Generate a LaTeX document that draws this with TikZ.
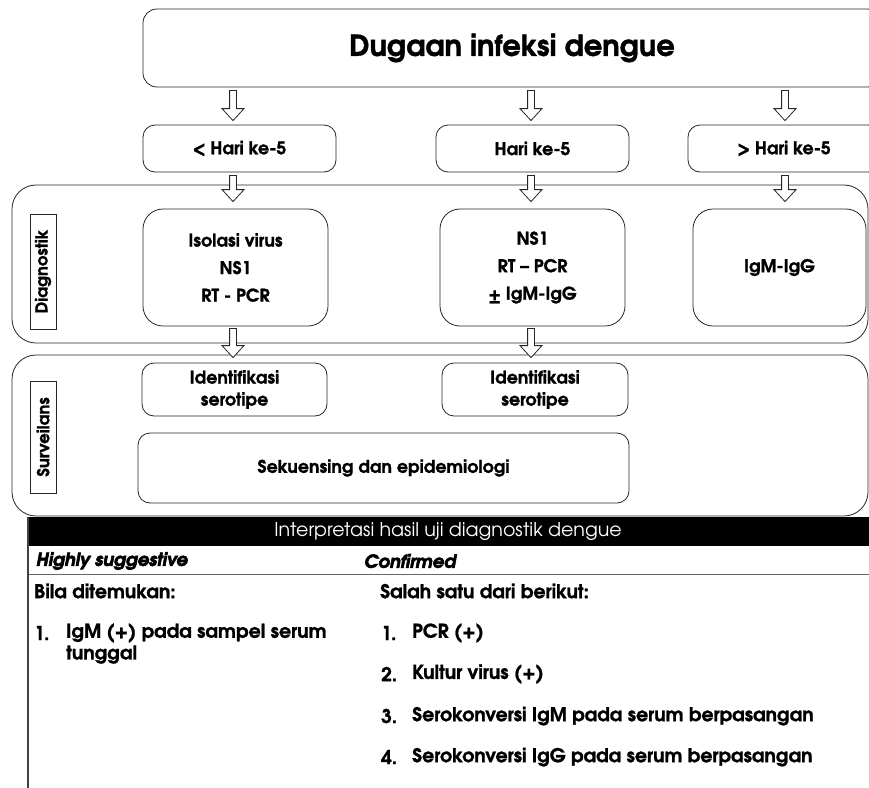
\documentclass[tikz,border=0pt]{standalone}
\usepackage{fontspec}
\setmainfont{TeX Gyre Adventor}[BoldFeatures={FakeBold=1.2}]
\newfontfamily\heavyfont{texgyreadventor-bolditalic.otf}[FakeBold=3]
\usetikzlibrary{calc}
\tikzset{
  ln/.style={draw=black!85, line width=0.8pt},
  rbox/.style={ln, rounded corners=12pt, fill=white, inner sep=0pt, align=center,
    font=\bfseries\fontsize{17.5}{27.5}\selectfont},
  bigbox/.style={rbox, rounded corners=20pt},
  panel/.style={ln, rounded corners=24pt, inner sep=0pt},
  sidelabel/.style={ln, inner sep=0pt},
  sidetext/.style={rotate=90, inner sep=0pt, font=\bfseries\fontsize{16.5}{18}\selectfont},
  barrow/.style={ln, fill=white, line join=miter},
  tabtxt/.style={anchor=west, inner sep=0pt, font=\bfseries\fontsize{19}{21}\selectfont},
  headtxt/.style={anchor=west, inner sep=0pt, font=\heavyfont\fontsize{18}{20}\selectfont},
}
\newcommand{\blockarrow}[2]{%
  \draw[barrow] ($(#1)+(-3.4,0)$) -- ($(#2)+(-3.4,-12)$) -- ($(#2)+(-11,-12)$)
    -- (#2) -- ($(#2)+(11,-12)$) -- ($(#2)+(3.4,-12)$) -- ($(#1)+(3.4,0)$) -- cycle;}
\begin{document}
\begin{tikzpicture}[x=1pt,y=-1pt]
\useasboundingbox (0,0) rectangle (869,787);
\clip (0,0) rectangle (869,787);
\fill[white] (0,0) rectangle (869,787);

% column reference coordinates
\coordinate (c1) at (233,0);
\coordinate (c2) at (531,0);
\coordinate (c3) at (785,0);

% top
\node[rbox, rounded corners=14pt, minimum width=738pt, minimum height=78pt,
  font=\bfseries\fontsize{29}{34}\selectfont] (top) at (512,48) {Dugaan infeksi dengue};

% day boxes
\node[rbox, minimum width=193pt, minimum height=47pt] (h1) at (239.5,148.5) {< Hari ke-5};
\node[rbox, minimum width=193pt, minimum height=47pt] (h2) at (532.5,148.5) {Hari ke-5};
\node[rbox, minimum width=192pt, minimum height=47pt] (h3) at (784,148.5) {> Hari ke-5};

% panels
\node[panel, minimum width=856pt, minimum height=158pt] (pd) at (440,264) {};
\node[panel, minimum width=856pt, minimum height=161pt] (ps) at (440,435.5) {};
\node[sidelabel, minimum width=26pt, minimum height=115pt] (ld) at (43,271.5) {};
\node[sidetext] at (ld.center) {Diagnostik};
\node[sidelabel, minimum width=26pt, minimum height=112pt] (ls) at (43,437) {};
\node[sidetext] at (ls.center) {Surveilans};

% diagnostic boxes
\node[bigbox, minimum width=185pt, minimum height=117pt] (d1) at (235.5,267.5)
  {Isolasi virus\\NS1\\RT - PCR};
\node[bigbox, minimum width=185pt, minimum height=117pt] (d2) at (532.5,267.5)
  {NS1\\RT – PCR\\± IgM-IgG};
\node[bigbox, minimum width=173pt, minimum height=117pt] (d3) at (779.5,267.5) {IgM-IgG};

% surveillance boxes
\node[rbox, minimum width=185pt, minimum height=53pt, font=\bfseries\fontsize{17.5}{22}\selectfont]
  (s1) at (234.5,389.5) {Identifikasi\\serotipe};
\node[rbox, minimum width=186pt, minimum height=53pt, font=\bfseries\fontsize{17.5}{22}\selectfont]
  (s2) at (535,389.5) {Identifikasi\\serotipe};
\node[rbox, minimum width=491pt, minimum height=70pt] (s3) at (383.5,468) {Sekuensing dan epidemiologi};

% arrows
\blockarrow{$(top.south -| c1)+(0,3)$}{$(h1.north -| c1)+(0,-4)$}
\blockarrow{$(top.south -| c2)+(0,3)$}{$(h2.north -| c2)+(0,-4)$}
\blockarrow{$(top.south -| c3)+(0,3)$}{$(h3.north -| c3)+(0,-4)$}
\blockarrow{$(h1.south -| c1)+(0,3)$}{$(d1.north -| c1)+(0,-7)$}
\blockarrow{$(h2.south -| c2)+(0,3)$}{$(d2.north -| c2)+(0,-7)$}
\blockarrow{$(h3.south -| c3)+(0,3)$}{$(d3.north -| c3)+(0,-7)$}
\blockarrow{$(d1.south -| c1)+(0,2)$}{$(s1.north -| c1)+(0,-5)$}
\blockarrow{$(d2.south -| c2)+(0,2)$}{$(s2.north -| c2)+(0,-5)$}

% table
\fill[black] (28,517) rectangle (880,546);
\node[white, inner sep=0pt, font=\fontsize{19}{22}\selectfont] (hdr) at (448,531.5)
  {Interpretasi hasil uji diagnostik dengue};
\draw[black!60, line width=0.8pt] (28,574) -- (880,574);
\draw[black!75, line width=1.3pt] (28,517) -- (28,790);

\node[headtxt] at (36,561) {Highly suggestive};
\node[headtxt] at (364,561) {Confirmed};
\node[tabtxt] at (34,591) {Bila ditemukan:};
\node[tabtxt] at (380,591) {Salah satu dari berikut:};

\node[tabtxt] at (34,633) {1.};
\node[tabtxt] at (66,633) {IgM (+) pada sampel serum};
\node[tabtxt] at (66,654.5) {tunggal};

\node[tabtxt] at (381,633) {1.};
\node[tabtxt] at (412,633) {PCR (+)};
\node[tabtxt] at (381,674) {2.};
\node[tabtxt] at (412,674) {Kultur virus (+)};
\node[tabtxt] at (381,716) {3.};
\node[tabtxt] at (412,716) {Serokonversi IgM pada serum berpasangan};
\node[tabtxt] at (381,757) {4.};
\node[tabtxt] at (412,757) {Serokonversi IgG pada serum berpasangan};
\end{tikzpicture}
\end{document}
